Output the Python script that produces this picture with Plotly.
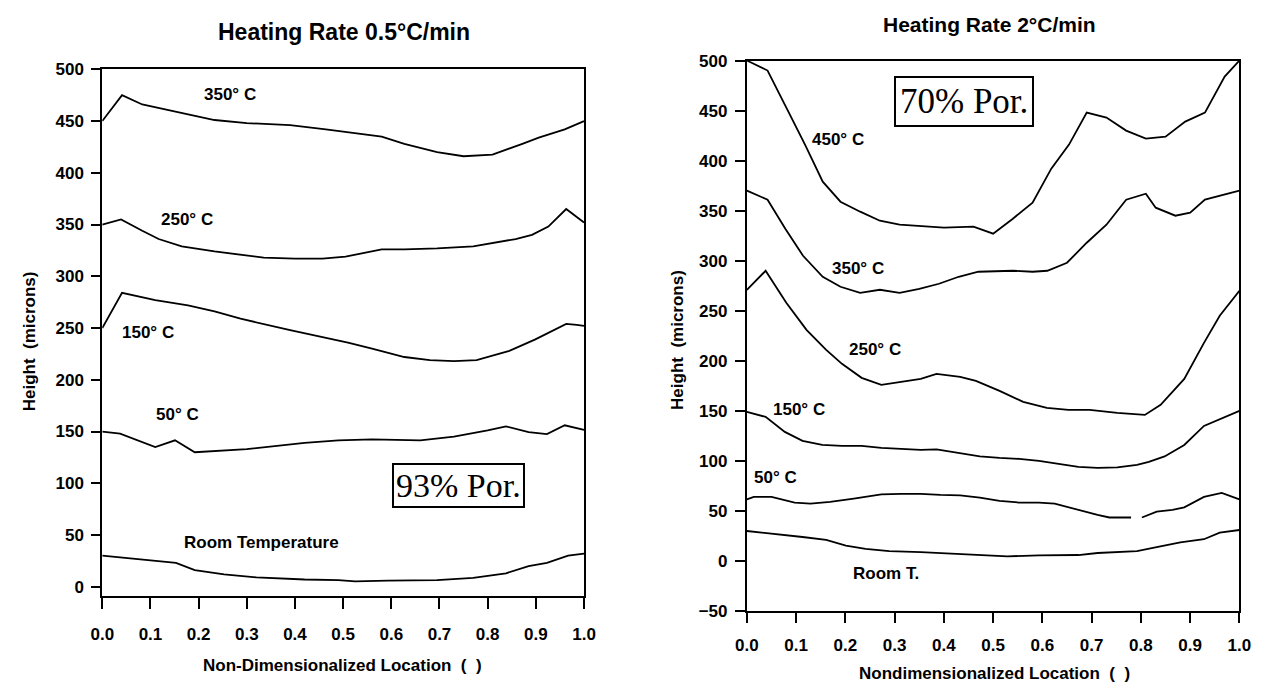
import plotly.graph_objects as go

# ---------------- data: left panel (Heating Rate 0.5 C/min, 93% porosity) ----------------
L350_x = [0, 0.041, 0.083, 0.124, 0.161, 0.233, 0.30, 0.39, 0.464, 0.58, 0.627, 0.695, 0.75, 0.81, 0.872, 0.906, 0.96, 1.0]
L350_y = [450, 475, 466, 462, 458, 451, 448, 446, 442, 435, 428, 420, 416, 417.5, 428, 434, 442, 450]

L250_x = [0, 0.039, 0.083, 0.117, 0.165, 0.233, 0.335, 0.40, 0.457, 0.505, 0.58, 0.627, 0.695, 0.77, 0.858, 0.892, 0.926, 0.963, 1.0]
L250_y = [350, 355, 344, 336, 329, 324, 318, 317, 317, 319, 326, 326, 327, 329, 336, 340, 348, 365, 352]

L150_x = [0, 0.041, 0.11, 0.178, 0.233, 0.287, 0.39, 0.44, 0.51, 0.56, 0.627, 0.68, 0.73, 0.777, 0.845, 0.899, 0.963, 0.985, 1.0]
L150_y = [250, 284, 277, 272, 266, 259, 248, 243, 236, 230, 222, 219, 218, 219, 228, 239, 254, 253, 252]

L50_x = [0, 0.037, 0.11, 0.151, 0.192, 0.30, 0.42, 0.49, 0.56, 0.66, 0.73, 0.80, 0.838, 0.885, 0.923, 0.96, 1.0]
L50_y = [150, 148, 135, 141.5, 130, 133, 139, 141.5, 142.5, 141.5, 145, 151, 155, 149.5, 147.5, 156, 151.5]

LRT_x = [0, 0.153, 0.192, 0.253, 0.32, 0.42, 0.49, 0.525, 0.593, 0.695, 0.77, 0.838, 0.885, 0.923, 0.967, 1.0]
LRT_y = [30, 23, 16, 12, 9, 7, 6.5, 5.3, 6, 6.5, 8.5, 13, 20, 23, 30, 32]

# ---------------- data: right panel (Heating Rate 2 C/min, 70% porosity) ----------------
R450_x = [0, 0.042, 0.078, 0.118, 0.154, 0.19, 0.23, 0.27, 0.31, 0.35, 0.40, 0.46, 0.50, 0.54, 0.58, 0.618, 0.654, 0.69, 0.73, 0.77, 0.81, 0.85, 0.89, 0.93, 0.97, 1.0]
R450_y = [500, 490, 455, 416, 379, 359, 349, 340, 336, 335, 333, 334, 327, 342, 358, 392, 416, 448, 443, 430, 422, 424, 439, 448, 484, 500]

R350_x = [0, 0.042, 0.078, 0.114, 0.154, 0.19, 0.23, 0.27, 0.31, 0.35, 0.39, 0.43, 0.47, 0.51, 0.54, 0.58, 0.61, 0.65, 0.69, 0.73, 0.77, 0.81, 0.83, 0.87, 0.90, 0.93, 1.0]
R350_y = [370, 361, 332, 305, 284, 274, 268, 271, 268, 272, 277, 284, 289, 290, 290, 289, 290, 298, 318, 336, 361, 367, 353, 345, 348, 361, 370]

R250_x = [0, 0.038, 0.08, 0.121, 0.161, 0.193, 0.233, 0.273, 0.313, 0.353, 0.385, 0.433, 0.465, 0.513, 0.561, 0.609, 0.653, 0.696, 0.752, 0.808, 0.84, 0.888, 0.928, 0.96, 1.0]
R250_y = [271, 290, 258, 231, 211, 197, 183, 176, 179, 182, 187, 184, 180, 170, 159, 153, 151, 151, 148, 146, 156, 182, 218, 245, 270]

R150_x = [0, 0.038, 0.077, 0.113, 0.153, 0.193, 0.233, 0.273, 0.313, 0.353, 0.385, 0.433, 0.473, 0.513, 0.553, 0.593, 0.633, 0.673, 0.712, 0.752, 0.792, 0.816, 0.848, 0.888, 0.928, 0.96, 1.0]
R150_y = [149, 144, 129, 120, 116, 115, 115, 113, 112, 111, 111.5, 108, 104.5, 103, 102, 100, 97, 94, 93, 93.5, 96, 99, 104.5, 116, 135, 142, 150]

R50_x = [0, 0.014, 0.05, 0.097, 0.129, 0.169, 0.217, 0.273, 0.313, 0.353, 0.393, 0.433, 0.473, 0.513, 0.553, 0.593, 0.625, 0.673, 0.712, 0.736, 0.78, 0.79, 0.802, 0.832, 0.864, 0.888, 0.928, 0.964, 1.0]
R50_y = [61.6, 64, 64, 58.4, 57.4, 59, 62.3, 66.5, 67, 67, 66, 65.5, 63.3, 60, 58.4, 58.4, 57.4, 51, 46, 43.5, 43.5, None, 43.5, 49.4, 51, 53.6, 64, 68, 61.6]

RRT_x = [0, 0.034, 0.073, 0.113, 0.161, 0.201, 0.241, 0.289, 0.353, 0.417, 0.473, 0.529, 0.593, 0.673, 0.712, 0.792, 0.832, 0.88, 0.928, 0.96, 1.0]
RRT_y = [30, 28.3, 26.7, 24, 21.2, 15.4, 12.1, 9.9, 8.9, 7.3, 6.6, 4.7, 5.7, 6, 8, 9.9, 13.8, 18.6, 21.8, 28.3, 31]

# labels (text, x, y)
left_labels = [("350° C", 0.265, 476), ("250° C", 0.175, 355), ("150° C", 0.094, 246),
               ("50° C", 0.157, 166), ("Room Temperature", 0.33, 43)]
right_labels = [("450° C", 0.185, 421), ("350° C", 0.226, 292), ("250° C", 0.26, 211),
                ("150° C", 0.106, 151), ("50° C", 0.058, 83), ("Room T.", 0.283, -12)]

x_ticks = [0.0, 0.1, 0.2, 0.3, 0.4, 0.5, 0.6, 0.7, 0.8, 0.9, 1.0]
left_title = "Heating Rate 0.5°C/min"
right_title = "Heating Rate 2°C/min"
left_xtitle = "Non-Dimensionalized Location  (  )"
right_xtitle = "Nondimensionalized Location  (  )"
ytitle = "Height  (microns)"

# ---------------- layout helpers ----------------
W, H = 1274, 695
def px(xp):
    return xp / W
def py(yp):
    return (H - yp) / H

SANS = "Liberation Sans, Arial, sans-serif"
SERIF = "Liberation Serif, Times New Roman, serif"
BLACK = "#000000"

fig = go.Figure()
line = dict(color=BLACK, width=1.8)
for xs, ys in [(L350_x, L350_y), (L250_x, L250_y), (L150_x, L150_y), (L50_x, L50_y), (LRT_x, LRT_y)]:
    fig.add_trace(go.Scatter(x=xs, y=ys, mode="lines", line=line, xaxis="x", yaxis="y",
                             showlegend=False, hoverinfo="skip", connectgaps=False))
for xs, ys in [(R450_x, R450_y), (R350_x, R350_y), (R250_x, R250_y), (R150_x, R150_y), (R50_x, R50_y), (RRT_x, RRT_y)]:
    fig.add_trace(go.Scatter(x=xs, y=ys, mode="lines", line=line, xaxis="x2", yaxis="y2",
                             showlegend=False, hoverinfo="skip", connectgaps=False))

tickfont = dict(family=SANS, size=17, color=BLACK, weight="bold")
common_x = dict(range=[0, 1], tickvals=x_ticks, tickformat=".1f", ticks="outside", tickwidth=1.6,
                tickcolor=BLACK, showline=True, linewidth=2, linecolor=BLACK, mirror=True,
                showgrid=False, zeroline=False, tickfont=tickfont)
common_y = dict(dtick=50, tick0=0, ticks="outside", tickwidth=1.6, tickcolor=BLACK,
                showline=True, linewidth=2, linecolor=BLACK, mirror=True,
                showgrid=False, zeroline=False, tickfont=tickfont)

annotations = []
lab_font = dict(family=SANS, size=17, color=BLACK, weight="bold")
for t, x, y in left_labels:
    annotations.append(dict(text=t, x=x, y=y, xref="x", yref="y", showarrow=False, font=lab_font,
                            xanchor="center", yanchor="middle"))
for t, x, y in right_labels:
    annotations.append(dict(text=t, x=x, y=y, xref="x2", yref="y2", showarrow=False, font=lab_font,
                            xanchor="center", yanchor="middle"))

annotations.append(dict(text="93% Por.", x=0.74, y=98, xref="x", yref="y", showarrow=False,
                        font=dict(family=SERIF, size=34, color=BLACK), bordercolor=BLACK,
                        borderwidth=2, borderpad=2, bgcolor="white", xanchor="center", yanchor="middle"))
annotations.append(dict(text="70% Por.", x=0.441, y=459, xref="x2", yref="y2", showarrow=False,
                        font=dict(family=SERIF, size=35, color=BLACK), bordercolor=BLACK,
                        borderwidth=2, borderpad=4, bgcolor="white", xanchor="center", yanchor="middle"))

annotations.append(dict(text=left_title, x=px(338), y=py(24), xref="paper", yref="paper", showarrow=False,
                        font=dict(family=SANS, size=23, color=BLACK, weight="bold"), xanchor="center", yanchor="middle"))
annotations.append(dict(text=right_title, x=px(996), y=py(16), xref="paper", yref="paper", showarrow=False,
                        font=dict(family=SANS, size=21, color=BLACK, weight="bold"), xanchor="center", yanchor="middle"))
ax_font = dict(family=SANS, size=17, color=BLACK, weight="bold")
annotations.append(dict(text=left_xtitle, x=px(337), y=py(675), xref="paper", yref="paper", showarrow=False,
                        font=ax_font, xanchor="center", yanchor="middle"))
annotations.append(dict(text=right_xtitle, x=px(1001), y=py(683), xref="paper", yref="paper", showarrow=False,
                        font=ax_font, xanchor="center", yanchor="middle"))
annotations.append(dict(text=ytitle, x=px(18), y=py(342), xref="paper", yref="paper", showarrow=False,
                        font=ax_font, textangle=-90, xanchor="center", yanchor="middle"))
annotations.append(dict(text=ytitle, x=px(678), y=py(340), xref="paper", yref="paper", showarrow=False,
                        font=ax_font, textangle=-90, xanchor="center", yanchor="middle"))

fig.update_layout(
    width=W, height=H, autosize=False,
    margin=dict(l=0, r=0, t=0, b=0),
    paper_bgcolor="white", plot_bgcolor="white",
    showlegend=False,
    xaxis=dict(domain=[px(92), px(583)], anchor="y", ticklen=11, ticklabelstandoff=10, **common_x),
    yaxis=dict(domain=[py(604), py(62)], anchor="x", range=[-9.4, 500], ticklen=9, ticklabelstandoff=4, **common_y),
    xaxis2=dict(domain=[px(749), px(1251)], anchor="y2", ticklen=10, ticklabelstandoff=8, **common_x),
    yaxis2=dict(domain=[py(619), py(53)], anchor="x2", range=[-50, 500], ticklen=10, ticklabelstandoff=4, **common_y),
    annotations=annotations,
)

fig.write_html("out.html", include_plotlyjs=True, config={"displayModeBar": False},
               post_script="document.body.style.margin='0';document.body.style.overflow='hidden';")
